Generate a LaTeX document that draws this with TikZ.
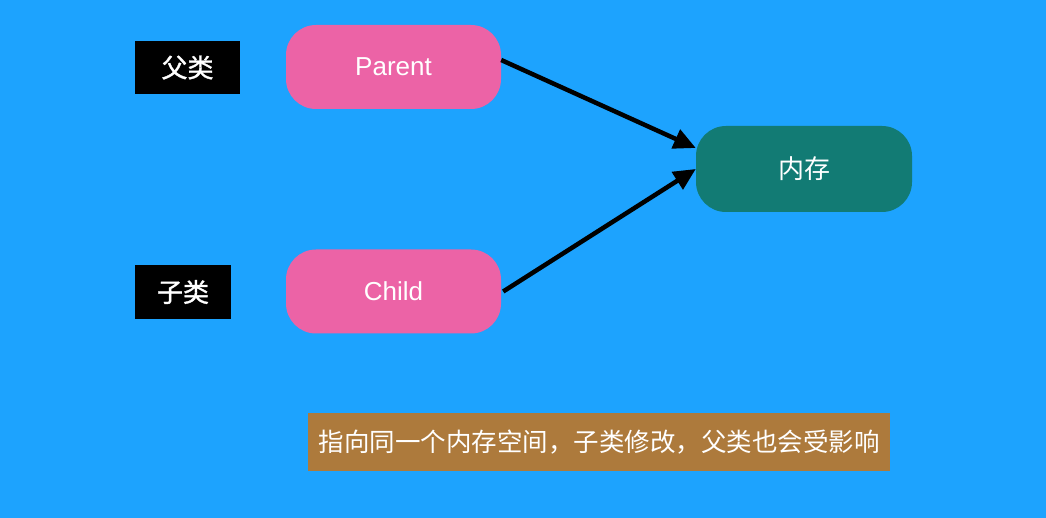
\documentclass[tikz,border=0pt]{standalone}
\usepackage{fontspec}
\setmainfont{Liberation Sans}
\newfontfamily\cjk{Noto Sans CJK SC}
\newfontfamily\cjkb[FakeBold=1.2]{Noto Sans CJK SC}
\usetikzlibrary{arrows.meta}
\definecolor{bgblue}{HTML}{1DA3FE}
\definecolor{pinkbox}{HTML}{EC63A6}
\definecolor{tealbox}{HTML}{127B74}
\definecolor{brownbox}{HTML}{AD7A3C}
\begin{document}
\begin{tikzpicture}[x=1pt,y=1pt,
  labelbox/.style={fill=black,text=white,inner sep=0pt,font=\cjkb\fontsize{26}{30}\selectfont},
  pinknode/.style={fill=pinkbox,text=white,rounded corners=30pt,minimum width=215pt,minimum height=84pt,inner sep=0pt,font=\fontsize{26}{30}\selectfont},
  memnode/.style={fill=tealbox,text=white,rounded corners=30pt,minimum width=216pt,minimum height=86pt,inner sep=0pt,font=\cjk\fontsize{26}{30}\selectfont},
  notebox/.style={fill=brownbox,text=white,minimum width=582pt,minimum height=58pt,inner sep=0pt,font=\cjk\fontsize{25.5}{30}\selectfont},
  conn/.style={line width=4.5pt,-{Triangle[length=22pt,width=20pt]}}]
\fill[bgblue] (0,0) rectangle (1046,-518);
\useasboundingbox (0,0) rectangle (1046,-518);
\node[labelbox,minimum width=105pt,minimum height=53pt] (lp) at (187.5,-67.5) {\raisebox{-2pt}{父类}};
\node[labelbox,minimum width=96pt,minimum height=54pt] (lc) at (183,-292) {\raisebox{-2pt}{子类}};
\node[pinknode] (p) at (393.5,-67) {\raisebox{-1.5pt}{Parent}};
\node[pinknode] (c) at (393.5,-291.5) {\raisebox{-1.5pt}{Child}};
\node[memnode] (m) at (804,-169) {\raisebox{-1.5pt}{内存}};
\node[notebox] (n) at (599,-442) {指向同一个内存空间，子类修改，父类也会受影响};
\draw[conn] ([yshift=7pt]p.east) -- ([yshift=21pt]m.west);
\draw[conn] ([xshift=2pt]c.east) -- (m.west);
\end{tikzpicture}
\end{document}
